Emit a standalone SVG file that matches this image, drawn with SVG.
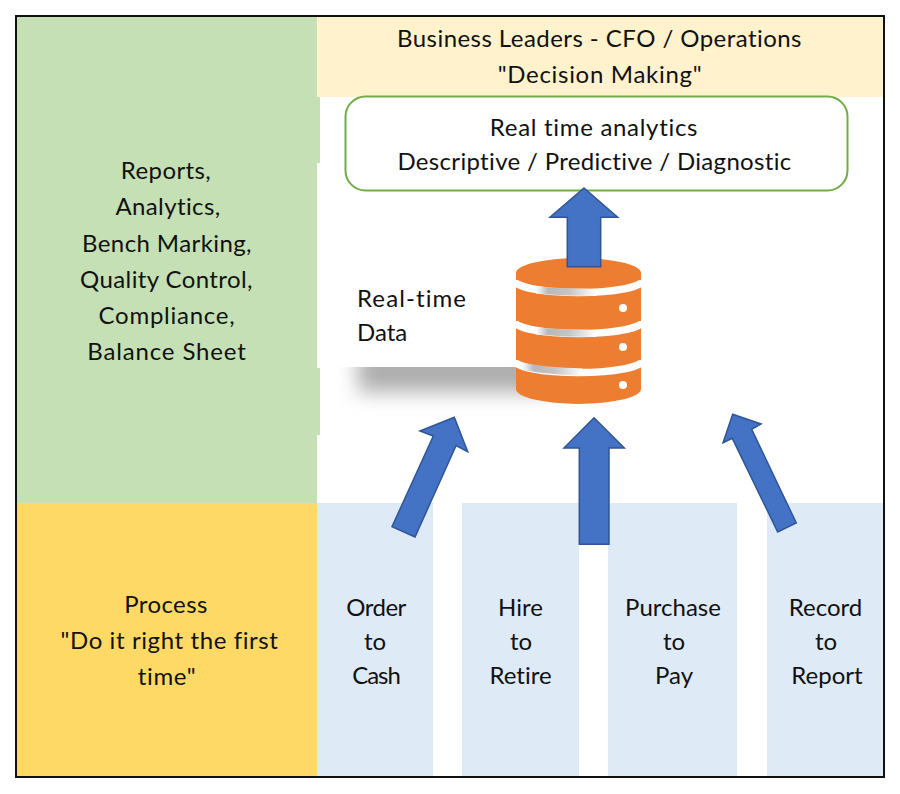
<svg xmlns="http://www.w3.org/2000/svg" width="900" height="794" viewBox="0 0 900 794">
<style>
text{font-family:Lato,"Liberation Sans",sans-serif;font-size:24px;fill:#111;text-anchor:middle;letter-spacing:.4px;font-variant-ligatures:none}
.n{letter-spacing:0}
.w{letter-spacing:.7px}
.l{text-anchor:start}
.arrow{fill:#4472C4;stroke:#2F5597;stroke-width:1.5}
.body{fill:#ED7D31}
.dot{fill:#fff}
.band{fill:none;stroke:#fff;stroke-width:7.500}
.grey{fill:none;stroke:url(#bandGrey);stroke-width:7}
</style>
<defs>
<filter id="blur" x="-20%" y="-60%" width="140%" height="220%"><feGaussianBlur stdDeviation="10"/></filter>
<clipPath id="shadowClip"><rect x="320" y="367" width="300" height="60"/></clipPath>
<linearGradient id="bandGrey" x1="0" x2="1" y1="0" y2="0"><stop offset="0" stop-color="#fff"/><stop offset=".2" stop-color="#b8b8b8"/><stop offset=".55" stop-color="#c4c4c4"/><stop offset="1" stop-color="#fff"/></linearGradient>
</defs>
<rect width="900" height="794" fill="#fff"/>
<g id="panel-reports">
<rect x="16" y="16" width="301" height="487" fill="#C5E0B4"/>
<rect x="317" y="97" width="3" height="66" fill="#C5E0B4"/>
<rect x="317" y="368" width="3" height="67" fill="#C5E0B4"/>
<text x="166" y="179">Reports,</text>
<text x="168" y="215">Analytics,</text>
<text x="167" y="252">Bench Marking,</text>
<text x="166.500" y="288">Quality Control,</text>
<text x="167" y="324" style="letter-spacing:.75px">Compliance,</text>
<text x="167" y="360" style="letter-spacing:.85px">Balance Sheet</text>
</g>
<g id="panel-leaders">
<rect x="317" y="16" width="567" height="81" fill="#FFF2CC"/>
<text x="599.500" y="47" style="letter-spacing:.45px">Business Leaders - CFO / Operations</text>
<text x="600" y="83" class="w">"Decision Making"</text>
</g>
<g id="panel-process">
<rect x="16" y="503" width="301" height="274" fill="#FFD966"/>
<text x="166" y="613">Process</text>
<text x="169.500" y="649" style="letter-spacing:.6px">"Do it right the first</text>
<text x="167" y="685" class="w">time"</text>
</g>
<g id="node-order">
<rect x="317" y="503" width="116" height="274" fill="#DEEAF6"/>
<text x="376" y="616" style="letter-spacing:-.5px">Order</text><text x="375" y="650" class="n">to</text><text x="376" y="684" style="letter-spacing:-1px">Cash</text>
</g>
<g id="node-hire">
<rect x="462" y="503" width="117" height="274" fill="#DEEAF6"/>
<text x="520.500" y="616" class="n">Hire</text><text x="521" y="650" class="n">to</text><text x="520.500" y="684" class="n">Retire</text>
</g>
<g id="node-purchase">
<rect x="608" y="503" width="129" height="274" fill="#DEEAF6"/>
<text x="673" y="616" class="n">Purchase</text><text x="674" y="650" class="n">to</text><text x="674" y="684" class="n">Pay</text>
</g>
<g id="node-record">
<rect x="767" y="503" width="117" height="274" fill="#DEEAF6"/>
<text x="825.500" y="616" class="n">Record</text><text x="826" y="650" class="n">to</text><text x="827" y="684" class="n">Report</text>
</g>
<g id="node-analytics">
<rect x="345.500" y="96.500" width="502" height="94" rx="20" fill="#fff" stroke="#70AD47" stroke-width="2"/>
<text x="594" y="136" class="w">Real time analytics</text>
<text x="594.500" y="170" style="letter-spacing:.33px">Descriptive / Predictive / Diagnostic</text>
</g>
<g id="node-database">
<g clip-path="url(#shadowClip)"><rect x="358" y="350" width="190" height="42" fill="#adadad" filter="url(#blur)"/></g>
<path class="body" d="M516 273A62.500 15 0 0 1 641 273V389A62.500 15 0 0 1 516 389Z"/>
<path class="band" d="M514 280A64 12.500 0 0 0 643 280"/>
<path class="band" d="M514 321A64 12.500 0 0 0 643 321"/>
<path class="band" d="M514 360A64 12.500 0 0 0 643 360"/>
<path class="grey" d="M536 290Q565 292.500 596 292.500"/>
<path class="grey" d="M536 331Q565 333.500 596 333.500"/>
<path class="grey" d="M522 366Q545 371 582 372"/>
<circle class="dot" cx="623" cy="308" r="4"/><circle class="dot" cx="623" cy="347" r="4"/><circle class="dot" cx="623" cy="385" r="4"/>
<text class="l" x="357" y="307" style="letter-spacing:1.100px">Real-time</text>
<text class="l n" x="357" y="341">Data</text>
</g>
<g id="connectors">
<polygon class="arrow" points="584,188 617.700,217.300 600.700,217.300 600.700,266.700 567.300,266.700 567.300,217.300 550,217.300"/>
<polygon class="arrow" points="454.300,417.300 420,431 433.300,436 392,526.700 415,537 456,445.700 467.700,451.700"/>
<polygon class="arrow" points="594,417.700 624.300,448 609,448 609,544.300 579.300,544.300 579.300,448 564,448"/>
<polygon class="arrow" points="732.700,414.300 761,424 751.700,429.300 796.300,523 777.700,532 732.300,438.300 723,442.700"/>
</g>
<rect id="frame" x="16" y="16" width="868" height="761" fill="none" stroke="#111" stroke-width="2"/>
</svg>
